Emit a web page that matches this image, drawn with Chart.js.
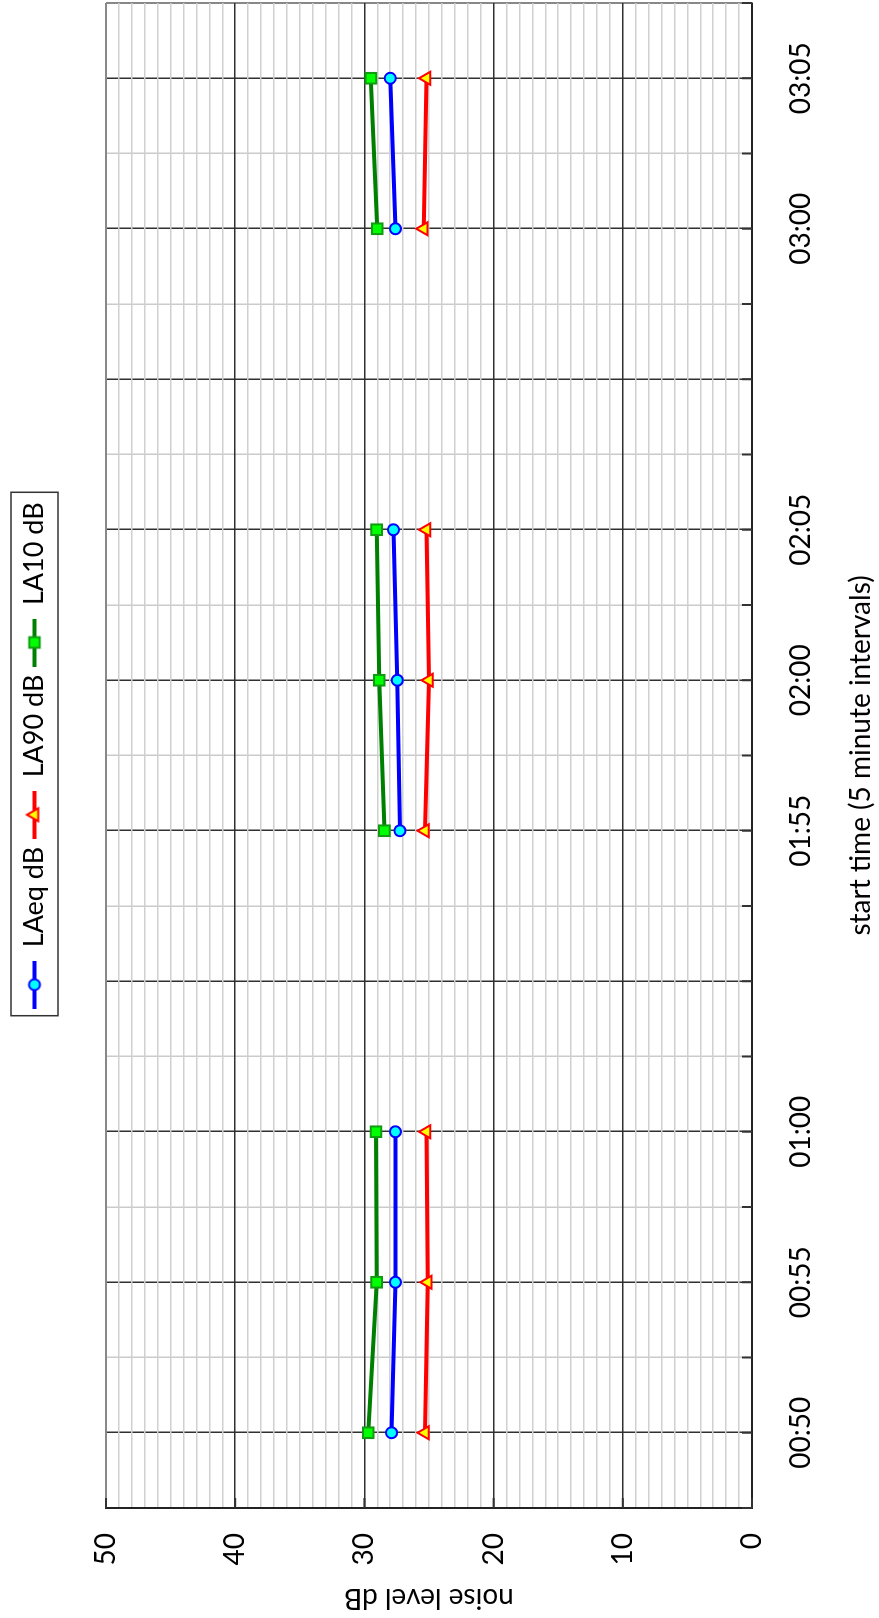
<!DOCTYPE html>
<html>
<head>
<meta charset="utf-8">
<script src="https://cdn.jsdelivr.net/npm/chart.js@4.4.1/dist/chart.umd.min.js"></script>
<style>
html, body { margin: 0; padding: 0; background: #fff; overflow: hidden; width: 879px; height: 1618px; }
/* chart is drawn landscape, then turned a quarter left like the source picture */
#wrap { position: absolute; left: 0; top: 0; width: 1618px; height: 879px; transform-origin: 0 0; transform: translateY(1618px) rotate(-90deg); }
</style>
</head>
<body>
<div id="wrap"><canvas id="noise_chart" width="1618" height="879"></canvas></div>
<script>
// ---------------------------------------------- data
const timeLabels = ['00:50', '00:55', '01:00', '', '01:55', '02:00', '02:05', '', '03:00', '03:05'];
const laeq = [27.9, 27.6, 27.6, null, 27.25, 27.45, 27.75, null, 27.6, 28.0];
const la90 = [25.3, 25.1, 25.2, null, 25.3, 25.0, 25.2, null, 25.4, 25.2];
const la10 = [29.7, 29.05, 29.1, null, 28.45, 28.85, 29.05, null, 29.0, 29.5];
const levelLabels = [0, 10, 20, 30, 40, 50];

Chart.defaults.font.family = "Lato, 'Open Sans', sans-serif";
Chart.defaults.color = '#000';

const toPoints = vals => vals.map((v, i) => ({x: i, y: v}));

// legend marker: short line with the point in the middle
function makeMark(line, fill, border, style, radius) {
    const c = document.createElement('canvas');
    c.width = 48; c.height = 20;
    const ctx = c.getContext('2d');
    ctx.strokeStyle = line; ctx.lineWidth = 4;
    ctx.beginPath(); ctx.moveTo(0, 10); ctx.lineTo(48, 10); ctx.stroke();
    ctx.fillStyle = fill; ctx.strokeStyle = border; ctx.lineWidth = 2;
    Chart.helpers.drawPoint(ctx, {pointStyle: style, radius: radius, borderWidth: 2, rotation: 0}, 24, 10);
    return c;
}

const series = [
    {label: 'LAeq dB', vals: laeq, line: '#0000ff', fill: '#00ffff', border: '#0000ff', style: 'circle', r: 5.5},
    {label: 'LA90 dB', vals: la90, line: '#ff0000', fill: '#ffff00', border: '#ff0000', style: 'triangle', r: 7.5},
    {label: 'LA10 dB', vals: la10, line: '#008000', fill: '#00ff00', border: '#139a13', style: 'rect', r: 7.5}
];
const legendMarks = series.map(s => makeMark(s.line, s.fill, s.border, s.style, s.r));

const legendFrame = {
    id: 'legendFrame',
    beforeLayout(chart) {
        // fixed legend height so the plot starts where the source one does
        const lg = chart.legend;
        if (lg && !lg._fixed) {
            const fit = lg.fit;
            lg.fit = function () { fit.call(this); this.height = 93; };
            lg._fixed = true;
        }
    },
    afterLayout(chart) {
        // centre the legend over the plot, not the whole canvas
        chart.legend.left = chart.chartArea.left;
        chart.legend.right = chart.chartArea.right;
    },
    afterDraw(chart) {
        const hb = chart.legend.legendHitBoxes;
        if (!hb || !hb.length) return;
        const last = hb[hb.length - 1];
        const l = hb[0].left - 7, r = last.left + last.width + 10;
        const cy = hb[0].top + hb[0].height / 2;
        const ctx = chart.ctx;
        ctx.save();
        ctx.strokeStyle = '#333'; ctx.lineWidth = 1.5;
        ctx.strokeRect(l, cy - 23.5, r - l, 47);
        ctx.restore();
    }
};

const innerTicks = {
    id: 'innerTicks',
    beforeDatasetsDraw(chart) {
        const {ctx, chartArea, scales} = chart;
        ctx.save();
        ctx.strokeStyle = '#333'; ctx.lineWidth = 2;
        scales.x.ticks.forEach(t => {
            const px = scales.x.getPixelForValue(t.value);
            ctx.beginPath(); ctx.moveTo(px, chartArea.bottom); ctx.lineTo(px, chartArea.bottom - 10); ctx.stroke();
        });
        scales.y.ticks.forEach(t => {
            if (!levelLabels.includes(t.value)) return;
            const py = scales.y.getPixelForValue(t.value);
            ctx.beginPath(); ctx.moveTo(chartArea.left, py); ctx.lineTo(chartArea.left + 10, py); ctx.stroke();
        });
        ctx.restore();
    }
};

new Chart('noise_chart', {
    type: 'line',
    data: {
        datasets: series.map(s => ({
            label: s.label,
            data: toPoints(s.vals),
            borderColor: s.line,
            backgroundColor: s.fill,
            borderWidth: 4,
            pointStyle: s.style,
            pointRadius: s.r,
            pointBorderWidth: 2,
            pointBorderColor: s.border,
            pointBackgroundColor: s.fill,
            spanGaps: false
        }))
    },
    options: {
        responsive: false,
        animation: false,
        layout: {autoPadding: false, padding: {top: 13, right: 3, bottom: 0, left: 0}},
        plugins: {
            tooltip: {enabled: false},
            legend: {
                position: 'top',
                labels: {
                    usePointStyle: true,
                    pointStyleWidth: 48,
                    padding: 8,
                    color: '#000',
                    font: {size: 27},
                    generateLabels(chart) {
                        const items = Chart.defaults.plugins.legend.labels.generateLabels(chart);
                        items.forEach((it, i) => { it.pointStyle = legendMarks[i]; it.fontColor = '#000'; });
                        return items;
                    }
                }
            }
        },
        scales: {
            x: {
                type: 'linear',
                min: -0.5,
                max: 9.5,
                afterFit: s => { s.height = 127; s.paddingLeft = 0; s.paddingRight = 0; },
                border: {color: '#222', width: 2},
                grid: {
                    drawTicks: true,
                    tickLength: 32,
                    tickColor: 'rgba(0,0,0,0)',
                    color: c => c.tick.value === 9.5 ? '#888' : (Number.isInteger(c.tick.value) ? '#303030' : '#cbcbcb'),
                    lineWidth: c => c.tick.value === 9.5 ? 2 : 1.5
                },
                ticks: {
                    stepSize: 0.5,
                    autoSkip: false,
                    maxRotation: 0,
                    padding: 0,
                    font: {size: 28},
                    callback: v => Number.isInteger(v) && v >= 0 ? timeLabels[v] : ''
                },
                title: {display: true, text: 'start time (5 minute intervals)', font: {size: 28}, padding: {top: 0, bottom: 1}}
            },
            y: {
                min: 0,
                max: 50,
                afterFit: s => { s.width = 110; s.paddingTop = 0; s.paddingBottom = 0; },
                border: {color: '#222', width: 2},
                grid: {
                    drawTicks: true,
                    tickLength: 22,
                    tickColor: 'rgba(0,0,0,0)',
                    color: c => c.tick.value === 50 ? '#888' : (levelLabels.includes(c.tick.value) ? '#303030' : '#d0d0d0'),
                    lineWidth: c => c.tick.value === 50 ? 2 : 1.5
                },
                ticks: {
                    stepSize: 1,
                    autoSkip: false,
                    padding: 3,
                    font: {size: 28},
                    callback: v => levelLabels.includes(v) ? String(v) : ''
                },
                title: {display: true, text: 'noise level dB', font: {size: 28}, padding: {top: 3, bottom: 0}}
            }
        }
    },
    plugins: [legendFrame, innerTicks]
});
</script>
</body>
</html>
